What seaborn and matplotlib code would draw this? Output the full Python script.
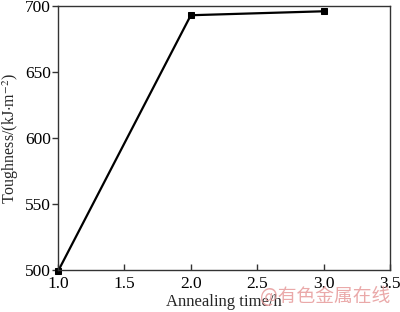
import matplotlib
matplotlib.use("Agg")
import matplotlib.pyplot as plt
import seaborn as sns
import pandas as pd

time_h = [1.0, 2.0, 3.0]
toughness = [499, 693, 696]
x_ticks = [1.0, 1.5, 2.0, 2.5, 3.0, 3.5]
y_ticks = [500, 550, 600, 650, 700]

sns.set_theme(style="white")
plt.rcParams['font.family'] = ['Liberation Serif', 'DejaVu Serif']
plt.rcParams['mathtext.fontset'] = 'stix'

df = pd.DataFrame({"t": time_h, "k": toughness})
fig = plt.figure(figsize=(4.0, 3.12), dpi=100)
ax = fig.add_axes([58/400, 1 - 270/312, 332/400, 264/312])
sns.lineplot(data=df, x="t", y="k", ax=ax, color="black", linewidth=1.6,
             marker="s", markersize=5, markeredgecolor="black", clip_on=False)
ax.set_xlim(1.0, 3.5)
ax.set_ylim(500, 700)
ax.set_xticks(x_ticks)
ax.set_xticklabels([f"{v:.1f}" for v in x_ticks])
ax.set_yticks(y_ticks)
ax.set_yticklabels([str(v) for v in y_ticks])
for s in ax.spines.values():
    s.set_color("#333333")
    s.set_linewidth(1.0)
    s.set_visible(True)
ax.tick_params(axis="x", bottom=True, direction="in", length=4, width=1, labelsize=12.5, pad=4, colors="#333333", labelcolor="black")
ax.tick_params(axis="y", left=True, direction="out", length=4, width=1, labelsize=12.5, pad=1, colors="#333333", labelcolor="black")
ax.set_xlabel("Annealing time/h", fontsize=12, labelpad=2)
ax.set_ylabel("Toughness/(kJ$\\cdot$m$^{-2}$)", fontsize=11.5, labelpad=0)
ax.yaxis.set_label_coords(-37/332, 0.5)
fig.text(390/400, 1 - 297/312, "@有色金属在线", ha="right", va="center", fontsize=13.5,
         color="#e8a0a0", alpha=0.9, family=['Noto Sans CJK SC', 'DejaVu Sans'])
fig.savefig("out.png", dpi=100)
